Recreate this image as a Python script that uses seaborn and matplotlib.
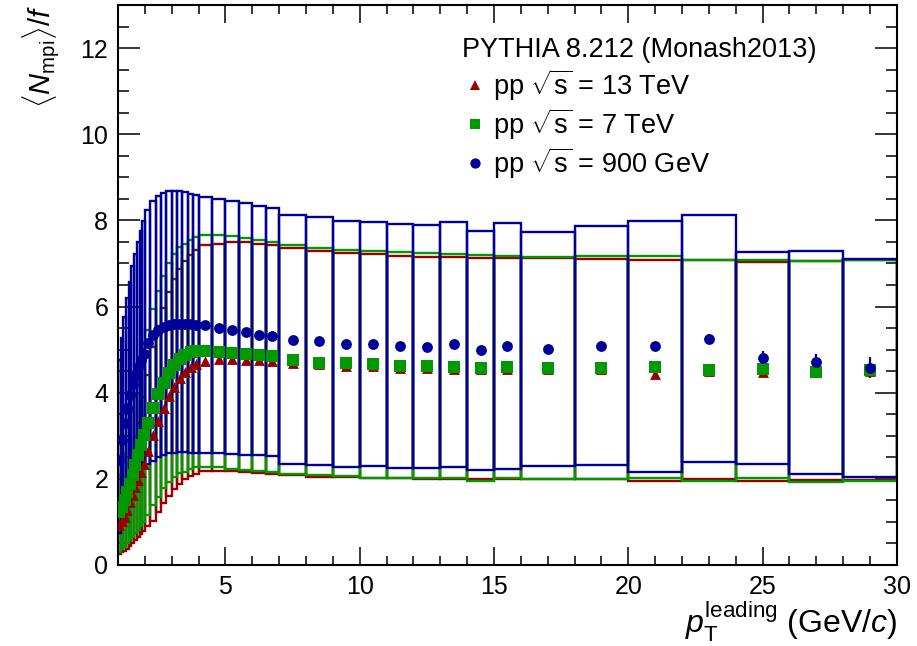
import numpy as np
import pandas as pd
import matplotlib
matplotlib.use("Agg")
import matplotlib.pyplot as plt
import seaborn as sns
from matplotlib.lines import Line2D
from matplotlib.ticker import MultipleLocator

# bin edges in pT (GeV/c)
edges = [1.0, 1.1, 1.2, 1.3, 1.4, 1.5, 1.6, 1.7, 1.8, 1.9, 2.0,
         2.2, 2.4, 2.6, 2.8, 3.0, 3.2, 3.4, 3.6, 3.8, 4.0,
         4.5, 5.0, 5.5, 6.0, 6.5, 7.0,
         8.0, 9.0, 10.0, 11.0, 12.0, 13.0, 14.0, 15.0, 16.0,
         18.0, 20.0, 22.0, 24.0, 26.0, 28.0, 30.0]

# pp 13 TeV
red_y = [0.93, 1.01, 1.12, 1.28, 1.47, 1.62, 1.80, 1.98, 2.17, 2.34,
         2.64, 3.02, 3.35, 3.65, 3.93, 4.14, 4.33, 4.47, 4.59, 4.67,
         4.74, 4.78, 4.78, 4.77, 4.76, 4.74,
         4.70, 4.66, 4.63, 4.61, 4.58, 4.57, 4.56, 4.55, 4.55,
         4.54, 4.55, 4.43, 4.50, 4.48, 4.47, 4.50]
red_stat = [0.02, 0.02, 0.02, 0.02, 0.02, 0.02, 0.02, 0.02, 0.02, 0.02,
            0.02, 0.02, 0.02, 0.02, 0.02, 0.02, 0.02, 0.02, 0.02, 0.02,
            0.02, 0.02, 0.02, 0.02, 0.02, 0.02,
            0.02, 0.02, 0.02, 0.03, 0.03, 0.03, 0.03, 0.03, 0.04,
            0.03, 0.04, 0.05, 0.05, 0.06, 0.07, 0.08]
red_hi = [1.55, 1.68, 1.87, 2.12, 2.43, 2.70, 3.00, 3.30, 3.60, 3.90,
          4.40, 5.05, 5.55, 5.97, 6.34, 6.64, 6.87, 7.06, 7.20, 7.31,
          7.43, 7.45, 7.50, 7.50, 7.46, 7.42,
          7.36, 7.30, 7.25, 7.21, 7.17, 7.16, 7.14, 7.13, 7.13,
          7.12, 7.10, 7.07, 7.08, 7.03, 7.05, 7.08]
red_lo = [0.26, 0.29, 0.33, 0.38, 0.44, 0.50, 0.57, 0.65, 0.73, 0.80,
          0.90, 1.03, 1.22, 1.45, 1.61, 1.76, 1.89, 1.99, 2.07, 2.12,
          2.18, 2.19, 2.18, 2.16, 2.14, 2.12,
          2.09, 2.05, 2.04, 2.02, 2.02, 2.00, 2.00, 1.99, 1.99,
          1.99, 1.99, 1.96, 1.99, 1.96, 1.98, 1.98]

# pp 7 TeV
green_y = [1.22, 1.35, 1.50, 1.70, 1.88, 2.10, 2.33, 2.56, 2.78, 3.02,
           3.29, 3.65, 3.98, 4.22, 4.45, 4.64, 4.78, 4.87, 4.94, 4.96,
           4.96, 4.94, 4.93, 4.90, 4.88, 4.85,
           4.75, 4.70, 4.68, 4.66, 4.63, 4.61, 4.60, 4.57, 4.59,
           4.57, 4.57, 4.60, 4.52, 4.56, 4.48, 4.52]
green_stat = [0.02, 0.02, 0.02, 0.02, 0.02, 0.02, 0.02, 0.02, 0.02, 0.02,
              0.02, 0.02, 0.02, 0.02, 0.02, 0.02, 0.02, 0.02, 0.02, 0.02,
              0.02, 0.02, 0.02, 0.02, 0.02, 0.02,
              0.02, 0.02, 0.02, 0.02, 0.03, 0.03, 0.03, 0.03, 0.03,
              0.03, 0.03, 0.04, 0.05, 0.05, 0.06, 0.07]
green_hi = [2.10, 2.32, 2.58, 2.90, 3.20, 3.55, 3.93, 4.30, 4.66, 5.03,
            5.45, 5.94, 6.37, 6.71, 7.00, 7.22, 7.38, 7.46, 7.54, 7.61,
            7.67, 7.67, 7.63, 7.59, 7.54, 7.49,
            7.43, 7.37, 7.31, 7.28, 7.27, 7.24, 7.21, 7.19, 7.17,
            7.16, 7.17, 7.17, 7.07, 7.09, 7.05, 7.07]
green_lo = [0.31, 0.36, 0.42, 0.50, 0.57, 0.65, 0.74, 0.82, 0.90, 1.00,
            1.15, 1.39, 1.58, 1.78, 1.93, 2.05, 2.13, 2.16, 2.22, 2.27,
            2.28, 2.28, 2.22, 2.20, 2.18, 2.15,
            2.11, 2.08, 2.06, 2.03, 2.03, 2.02, 2.02, 1.96, 2.02,
            1.99, 1.99, 2.03, 1.94, 2.02, 1.92, 1.96]

# pp 900 GeV
blue_y = [2.44, 2.90, 3.30, 3.65, 3.95, 4.20, 4.42, 4.60, 4.76, 4.90,
          5.15, 5.33, 5.45, 5.53, 5.57, 5.59, 5.60, 5.60, 5.59, 5.58,
          5.56, 5.50, 5.45, 5.40, 5.35, 5.32,
          5.23, 5.19, 5.14, 5.13, 5.08, 5.06, 5.12, 4.98, 5.08,
          5.01, 5.08, 5.08, 5.25, 4.81, 4.71, 4.58]
blue_stat = [0.03, 0.03, 0.03, 0.03, 0.03, 0.03, 0.03, 0.03, 0.03, 0.03,
             0.03, 0.03, 0.03, 0.03, 0.03, 0.03, 0.03, 0.03, 0.03, 0.03,
             0.03, 0.03, 0.03, 0.03, 0.03, 0.03,
             0.03, 0.03, 0.03, 0.03, 0.03, 0.04, 0.04, 0.04, 0.05,
             0.04, 0.04, 0.06, 0.11, 0.15, 0.18, 0.25]
blue_hi = [4.75, 5.26, 5.75, 6.20, 6.58, 6.93, 7.23, 7.50, 7.75, 7.98,
           8.24, 8.45, 8.57, 8.64, 8.68, 8.69, 8.68, 8.66, 8.62, 8.58,
           8.55, 8.50, 8.44, 8.40, 8.33, 8.28,
           8.13, 8.07, 7.99, 7.96, 7.92, 7.90, 7.96, 7.76, 7.95,
           7.73, 7.86, 7.99, 8.12, 7.26, 7.30, 7.11]
blue_lo = [0.75, 1.00, 1.25, 1.45, 1.65, 1.80, 1.95, 2.05, 2.15, 2.25,
           2.35, 2.42, 2.50, 2.56, 2.60, 2.61, 2.62, 2.62, 2.61, 2.60,
           2.60, 2.59, 2.57, 2.56, 2.55, 2.54,
           2.34, 2.31, 2.27, 2.29, 2.25, 2.25, 2.27, 2.21, 2.23,
           2.29, 2.31, 2.16, 2.38, 2.34, 2.11, 2.05]

labels = [r"pp $\sqrt{\mathrm{s}}$ = 13 TeV",
          r"pp $\sqrt{\mathrm{s}}$ = 7 TeV",
          r"pp $\sqrt{\mathrm{s}}$ = 900 GeV"]

sns.set_theme(style="ticks")
plt.rcParams['font.family'] = ['Liberation Sans', 'DejaVu Sans']
plt.rcParams['mathtext.fontset'] = 'custom'
plt.rcParams['mathtext.rm'] = 'Liberation Sans'
plt.rcParams['mathtext.it'] = 'Liberation Sans:italic'
plt.rcParams['mathtext.bf'] = 'Liberation Sans:bold'
for key in ['text.color', 'axes.labelcolor', 'xtick.color', 'ytick.color', 'axes.edgecolor']:
    plt.rcParams[key] = 'black'

edges_a = np.array(edges)
centers = 0.5 * (edges_a[:-1] + edges_a[1:])
widths = np.diff(edges_a)

series = [
    ("13 TeV", red_y, red_stat, red_lo, red_hi, "#990000", "^", 7.8),
    ("7 TeV", green_y, green_stat, green_lo, green_hi, "#009900", "s", 8.2),
    ("900 GeV", blue_y, blue_stat, blue_lo, blue_hi, "#000099", "o", 7.8),
]

fig, ax = plt.subplots(figsize=(9.17, 6.46), dpi=100)
fig.subplots_adjust(left=0.1287, right=0.978, bottom=0.1254, top=0.9923)

# systematic boxes
for name, y, st, lo, hi, col, mk, ms in series:
    ax.bar(edges_a[:-1], np.array(hi) - np.array(lo), width=widths, bottom=lo,
           align="edge", fill=False, edgecolor=col, linewidth=1.7, zorder=2)

# points with stat. errors
for name, y, st, lo, hi, col, mk, ms in series:
    df = pd.DataFrame({"pt": centers, "val": y})
    ax.errorbar(centers, y, yerr=st, fmt="none", ecolor=col, elinewidth=1.6, zorder=3)
    sns.scatterplot(data=df, x="pt", y="val", marker=mk, color=col, s=ms ** 2,
                    linewidth=0, ax=ax, zorder=4, legend=False)

ax.set_xlim(1, 30)
ax.set_ylim(0, 13)
ax.xaxis.set_major_locator(MultipleLocator(5))
ax.xaxis.set_minor_locator(MultipleLocator(1))
ax.yaxis.set_major_locator(MultipleLocator(2))
ax.yaxis.set_minor_locator(MultipleLocator(0.5))
ax.tick_params(axis="both", which="both", direction="in", top=True, right=True,
               labelsize=18, width=1.1, color="black", labelcolor="black")
ax.tick_params(axis="x", which="major", length=13, pad=7)
ax.tick_params(axis="x", which="minor", length=6.5)
ax.tick_params(axis="y", which="major", length=16, pad=7)
ax.tick_params(axis="y", which="minor", length=8)
for sp in ax.spines.values():
    sp.set_linewidth(1.5)
    sp.set_color("black")

ax.set_xlabel(r"$p_{\mathrm{T}}^{\mathrm{leading}}$ (GeV/$c$)", fontsize=23,
              loc="right", labelpad=0.5)
ax.set_ylabel(r"$\langle N_{\mathrm{mpi}}\rangle/f$", fontsize=21, loc="top",
              labelpad=14)

handles = [Line2D([], [], ls="none", marker=mk, color=col, markersize=ms * 0.95,
                  markeredgewidth=0) for name, y, st, lo, hi, col, mk, ms in series]
ax.legend(handles, labels, title="PYTHIA 8.212 (Monash2013)", loc="upper left",
          bbox_to_anchor=(0.4416, 0.942), frameon=False, fontsize=19.5,
          title_fontsize=19.5, alignment="left", handlelength=0.95,
          handletextpad=0.2, labelspacing=0.13, borderpad=0, borderaxespad=0)

fig.savefig("out.png", dpi=100)
